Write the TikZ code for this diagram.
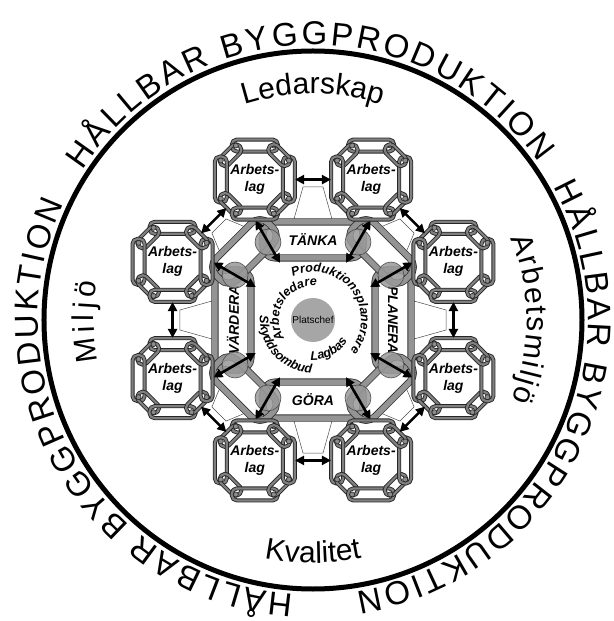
\documentclass[tikz,border=0pt]{standalone}
\usepackage{fontspec}
\setmainfont{Liberation Sans}
\usetikzlibrary{arrows.meta,decorations.text}

\newcommand{\ringfont}{\fontsize{33}{33}\selectfont}
\newcommand{\omradefont}{\fontsize{30}{30}\selectfont}
\newcommand{\lagfont}{\fontsize{14}{17}\selectfont\bfseries\itshape}
\newcommand{\rollfont}{\fontsize{12.5}{12.5}\selectfont\bfseries\itshape}

\begin{document}
\begin{tikzpicture}[x=1pt, y=1pt, line join=round, line cap=round,
    >={Triangle[length=9pt, width=9pt]},
    dubbelpil/.style={<->, line width=2.6pt},
    tunn/.style={black!70, line width=0.5pt},
    lank/.style={draw=black!85, double=black!50, double distance=2.2pt, line width=0.9pt, rounded corners=5pt},
    storlank/.style={draw=black!80, double=black!42, double distance=5.5pt, line width=0.8pt, rounded corners=12pt},
    fas/.style={storlank, fill=white, minimum width=100pt, minimum height=36pt, inner sep=0pt, font=\lagfont},
    lag/.style={circle, minimum size=80pt, inner sep=0pt, align=center, font=\lagfont},
    klump/.style={fill=black!40, draw=black!70, line width=0.6pt, fill opacity=0.85},
    lagring/.pic={
      \foreach \w in {0,90,180,270}{
        \draw[lank, rotate=\w] (-23,28) rectangle (23,40);
        \draw[lank, rotate=\w+45] (-13,29) rectangle (13,40);
        \filldraw[fill=black!45, draw=black!85, line width=0.6pt, rotate=\w] (-19,34) circle (2.5pt) (19,34) circle (2.5pt);
      }
    }]
    \useasboundingbox (-313,-301) rectangle (300,320);

    % yttre ring med text
    \draw[line width=5pt] (0,0) circle (269pt);
    \foreach \a/\b in {147/35, 29/-81, -94/-205}
      \path[decorate, decoration={text along path, text align={fit to path},
        text={|\ringfont|HÅLLBAR BYGGPRODUKTION}}]
        (\a:275) arc[start angle=\a, end angle=\b, radius=275];

    % omraden
    \path[decorate, decoration={text along path, text align=center, text={|\omradefont|Ledarskap}}]
      (125:226) arc[start angle=125, end angle=55, radius=226];
    \path[decorate, decoration={text along path, text align={fit to path}, text={|\omradefont|Arbetsmiljö}}]
      (22.5:214) arc[start angle=22.5, end angle=-22, radius=214];
    \path[decorate, decoration={text along path, text align=center, text={|\omradefont|Kvalitet}}]
      (240:243) arc[start angle=240, end angle=300, radius=243];
    \path[decorate, decoration={text along path, text align={fit to path}, text={|\omradefont|Miljö}}]
      (191:219) arc[start angle=191, end angle=170, radius=219];

    % tunna linjer mot pilarna
    \foreach \v/\d in {0/101,90/101,180/101,270/101,45/111,135/111,225/111,315/111}
      \draw[tunn, rotate=\v] (\d,-19) -- (133,-10) -- (133,10) -- (\d,19);

    % faserna
    \node[fas] (tanka) at (0,80) {TÄNKA};
    \node[fas, rotate=-90] (planera) at (80,0) {PLANERA};
    \node[fas] (gora) at (0,-80) {GÖRA};
    \node[fas, rotate=90] (vardera) at (-80,0) {VÄRDERA};
    \foreach \v in {45,135,225,315}
      \draw[storlank, rotate=\v-90] (-37,82) rectangle (37,112);

    \foreach \v in {30,60,120,150,210,240,300,330}{
      \path[klump] (\v:90) circle (13pt);
      \coordinate (in\v) at (\v:66);
      \coordinate (ut\v) at (\v:115);
      \draw[dubbelpil] (in\v) -- (ut\v);
    }

    % mitten
    \node[circle, fill=black!35, minimum size=44pt, inner sep=0pt, font=\fontsize{10}{10}\selectfont] (chef) at (0,0) {Platschef};
    \path[decorate, decoration={text along path, text align=center, text={|\rollfont|Produktionsplanerare}}]
      (125:48) arc[start angle=125, end angle=-50, radius=48];
    \path[decorate, decoration={text along path, text align=center, text={|\rollfont|Arbetsledare}}]
      (225:34) arc[start angle=225, end angle=71, radius=34];
    \path[decorate, decoration={text along path, text align=center, text={|\rollfont|Skyddsombud}}]
      (150:53) arc[start angle=150, end angle=294, radius=53];
    \path[decorate, decoration={text along path, text align=center, text={|\rollfont|Lagbas}}]
      (253:40) arc[start angle=253, end angle=343, radius=40];

    % arbetslagen
    \foreach \v [count=\i] in {67.5,22.5,-22.5,-67.5,-112.5,-157.5,157.5,112.5}{
      \pic at (\v:152) {lagring};
      \node[lag] (lag\i) at (\v:152) {Arbets-\\lag};
    }
    \foreach \i/\j in {1/2,2/3,3/4,4/5,5/6,6/7,7/8,8/1}
      \draw[dubbelpil] (lag\i) -- (lag\j);
\end{tikzpicture}
\end{document}
